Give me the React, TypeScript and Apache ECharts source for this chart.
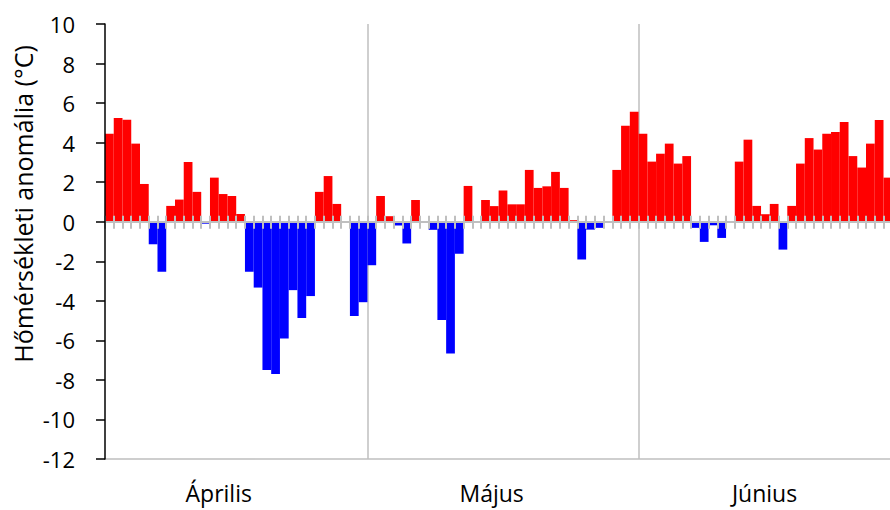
import React, { useEffect, useRef } from "react";
import * as echarts from "echarts";

const aprilValues = [
  4.45, 5.24, 5.16, 3.95, 1.91, -1.14, -2.53, 0.8, 1.12, 3.02,
  1.51, -0.1, 2.23, 1.4, 1.3, 0.39, -2.53, -3.33, -7.5, -7.7,
  -5.9, -3.46, -4.87, -3.76, 1.51, 2.31, 0.9, 0, -4.77, -4.07,
];
const mayValues = [
  -2.2, 1.3, 0.28, -0.19, -1.1, 1.1, 0, -0.41, -4.97, -6.67,
  -1.62, 1.81, 0, 1.1, 0.79, 1.58, 0.88, 0.88, 2.62, 1.71,
  1.79, 2.52, 1.71, 0.08, -1.91, -0.4, -0.31, 0, 2.62, 4.86,
  5.56,
];
const juneValues: (number | null)[] = [
  4.45, 3.04, 3.44, 3.95, 2.94, 3.32, -0.31, -1.02, -0.18, -0.82,
  0, 3.04, 4.15, 0.8, 0.38, 0.9, -1.41, 0.8, 2.94, 4.23,
  3.65, 4.45, 4.54, 5.04, 3.32, 2.74, 3.95, 5.14, 2.23, null,
];
const monthNames = ["Április", "Május", "Június"];
const monthLabelDays = [13, 44.2, 75.4];
const monthBoundaryDays = [30, 61];
const yTicks = { min: -12, max: 10, interval: 2 };
const yTitle = "Hőmérsékleti anomália (°C)";

const allValues = [...aprilValues, ...mayValues, ...juneValues];
const days = allValues.map((_, i) => String(i + 1));
const totalDays = allValues.length;

const FONT = "'Open Sans', 'Noto Sans', sans-serif";
const GRID_TOP = 24;
const GRID_HEIGHT = 435;

export default function App() {
  const ref = useRef<HTMLDivElement>(null);
  useEffect(() => {
    if (!ref.current) return;
    const chart = echarts.init(ref.current, null, { renderer: "svg" });
    const gray = "#BFBFBF";
    chart.setOption({
      animation: false,
      backgroundColor: "#ffffff",
      grid: {
        left: 105,
        top: GRID_TOP,
        width: 796,
        height: GRID_HEIGHT,
        containLabel: false,
        outerBoundsMode: "none",
      },
      xAxis: [
        {
          type: "category",
          data: days,
          position: "bottom",
          boundaryGap: true,
          z: 5,
          axisLine: { onZero: true, onZeroAxisIndex: 0, lineStyle: { color: gray, width: 2 } },
          axisTick: { show: true, interval: 0, length: 7, lineStyle: { color: gray, width: 2 } },
          axisLabel: { show: false },
          splitLine: { show: false },
        },
        {
          type: "category",
          data: days,
          position: "bottom",
          boundaryGap: true,
          z: 5,
          axisLine: { show: false, onZero: true, onZeroAxisIndex: 0 },
          axisTick: { show: true, inside: true, interval: 0, length: 6, lineStyle: { color: gray, width: 2 } },
          axisLabel: { show: false },
          splitLine: { show: false },
        },
        {
          type: "value",
          min: 0,
          max: totalDays,
          position: "bottom",
          z: 1,
          axisLine: { show: true, onZero: false, lineStyle: { color: gray, width: 1.5 } },
          axisTick: {
            show: true,
            inside: true,
            length: GRID_HEIGHT,
            customValues: monthBoundaryDays,
            lineStyle: { color: gray, width: 1.5 },
          },
          axisLabel: {
            show: true,
            customValues: monthLabelDays,
            margin: 22,
            fontFamily: FONT,
            fontSize: 23,
            color: "#000",
            formatter: (v: number) => {
              let best = 0;
              monthLabelDays.forEach((d, i) => {
                if (Math.abs(d - v) < Math.abs(monthLabelDays[best] - v)) best = i;
              });
              return monthNames[best];
            },
          },
          splitLine: { show: false },
        },
      ],
      yAxis: {
        type: "value",
        min: yTicks.min,
        max: yTicks.max,
        interval: yTicks.interval,
        z: 6,
        axisLine: { show: true, onZero: false, lineStyle: { color: "#000", width: 1.5 } },
        axisTick: { show: true, length: 9, lineStyle: { color: "#000", width: 1.5 } },
        axisLabel: { margin: 30, fontFamily: FONT, fontSize: 22, color: "#000" },
        splitLine: { show: false },
      },
      graphic: [
        {
          type: "text",
          x: 23,
          y: 204,
          rotation: Math.PI / 2,
          style: {
            text: yTitle,
            font: `25px ${FONT}`,
            fill: "#000",
            textAlign: "center",
            textVerticalAlign: "middle",
          },
        },
      ],
      series: [
        {
          type: "bar",
          xAxisIndex: 0,
          yAxisIndex: 0,
          data: allValues,
          barCategoryGap: "0%",
          barGap: "0%",
          z: 2,
          itemStyle: {
            color: (p: any) => (p.value >= 0 ? "#FF0000" : "#0000FF"),
          },
        },
      ],
    });
    return () => chart.dispose();
  }, []);
  return (
    <div
      ref={ref}
      style={{ position: "fixed", left: 0, top: 0, width: 890, height: 510 }}
    />
  );
}
